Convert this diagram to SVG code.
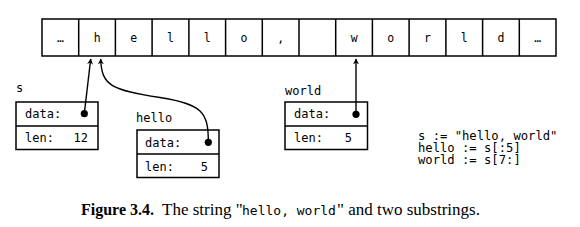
<svg xmlns="http://www.w3.org/2000/svg" width="580" height="227" viewBox="0 0 580 227">
<defs>
<style>
.box{fill:#fff;stroke:#000;stroke-width:1.5}
.cell{fill:none;stroke:#000;stroke-width:1.5}
.mono{font-family:"DejaVu Sans Mono","Liberation Mono",monospace;font-size:12px;fill:#000}
.arr{font-family:"DejaVu Sans Mono","Liberation Mono",monospace;font-size:11.5px;fill:#000;text-anchor:middle}
.code{font-family:"DejaVu Sans Mono","Liberation Mono",monospace;font-size:12.2px;fill:#000}
.wire{fill:none;stroke:#000;stroke-width:1.4}
.dot{fill:#000}
.cap{font-family:"Liberation Serif","Times New Roman",serif;font-size:17px;fill:#000}
.capm{font-family:"DejaVu Sans Mono","Liberation Mono",monospace;font-size:13px}
</style>
<marker id="ah" viewBox="0 0 10 10" refX="9" refY="5" markerWidth="6" markerHeight="6" markerUnits="userSpaceOnUse" orient="auto">
<path d="M0,0 L10,5 L0,10 L3,5 z" fill="#000"/>
</marker>
</defs>

<g id="string-array">
<rect class="cell" x="42" y="19" width="514" height="37"/>
<path class="cell" d="M78.7,19V56M115.4,19V56M152.1,19V56M188.9,19V56M225.6,19V56M262.3,19V56M299,19V56M335.7,19V56M372.4,19V56M409.1,19V56M445.9,19V56M482.6,19V56M519.3,19V56"/>
<text class="arr" x="60.4" y="42">…</text>
<text class="arr" x="97.1" y="42">h</text>
<text class="arr" x="133.8" y="42">e</text>
<text class="arr" x="170.5" y="42">l</text>
<text class="arr" x="207.2" y="42">l</text>
<text class="arr" x="243.9" y="42">o</text>
<text class="arr" x="280.6" y="42">,</text>
<text class="arr" x="354.1" y="42">w</text>
<text class="arr" x="390.8" y="42">o</text>
<text class="arr" x="427.5" y="42">r</text>
<text class="arr" x="464.2" y="42">l</text>
<text class="arr" x="500.9" y="42">d</text>
<text class="arr" x="537.6" y="42">…</text>
</g>

<g id="s">
<text class="mono" x="16" y="92">s</text>
<rect class="box" x="16" y="102" width="82" height="47.5"/>
<line class="box" x1="16" y1="126" x2="98" y2="126"/>
<text class="mono" x="25" y="118">data:</text>
<text class="mono" x="25" y="142">len:</text>
<text class="mono" x="88" y="142" text-anchor="end">12</text>
</g>

<g id="hello">
<text class="mono" x="136" y="122">hello</text>
<rect class="box" x="137" y="130" width="82" height="47.5"/>
<line class="box" x1="137" y1="154" x2="219" y2="154"/>
<text class="mono" x="145" y="146.5">data:</text>
<text class="mono" x="145" y="170.5">len:</text>
<text class="mono" x="208" y="170.5" text-anchor="end">5</text>
</g>

<g id="world">
<text class="mono" x="285" y="95">world</text>
<rect class="box" x="285" y="102" width="82.5" height="47.5"/>
<line class="box" x1="285" y1="126" x2="367.5" y2="126"/>
<text class="mono" x="294" y="118">data:</text>
<text class="mono" x="294" y="142">len:</text>
<text class="mono" x="352" y="142" text-anchor="end">5</text>
</g>

<g id="code">
<text class="code" x="418" y="139.5">s := "hello, world"</text>
<text class="code" x="418" y="151.5">hello := s[:5]</text>
<text class="code" x="418" y="163.5">world := s[7:]</text>
</g>

<g id="connectors">
<path class="wire" d="M84.3,113.7 L90.7,59" marker-end="url(#ah)"/>
<path class="wire" d="M208.3,142.3 C208.5,112 202,104 160,97.5 C112,90 101.5,86 100.7,59" marker-end="url(#ah)"/>
<path class="wire" d="M356,114.3 L356,59" marker-end="url(#ah)"/>
<circle class="dot" cx="84.3" cy="113.7" r="3.6"/>
<circle class="dot" cx="208.3" cy="142.3" r="3.6"/>
<circle class="dot" cx="356" cy="114.3" r="3.6"/>
</g>

<g id="caption">
<text class="cap" y="215"><tspan x="81" font-weight="bold" font-size="16">Figure 3.4.</tspan><tspan x="162">The string "</tspan><tspan class="capm" x="242">hello, world</tspan><tspan x="337">" and two substrings.</tspan></text>
</g>
</svg>
